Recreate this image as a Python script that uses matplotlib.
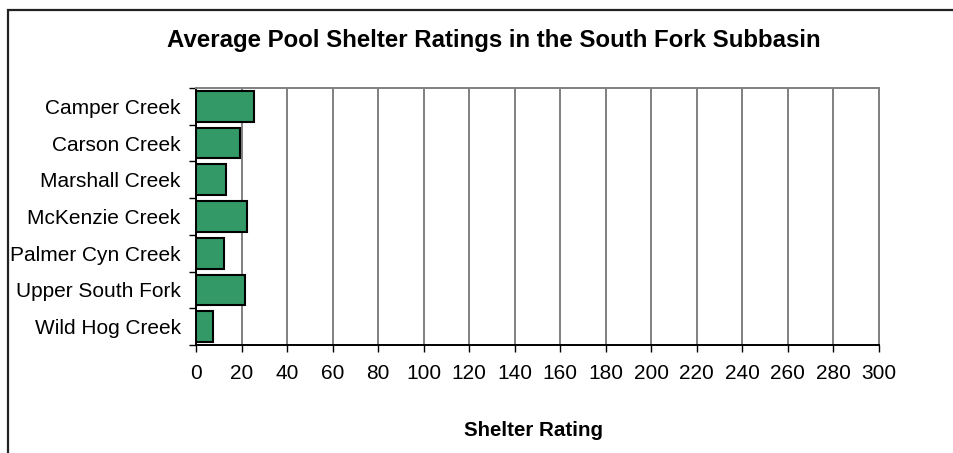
import matplotlib
matplotlib.use("Agg")
import matplotlib.pyplot as plt
from matplotlib.patches import Rectangle
import numpy as np

plt.rcParams['font.family'] = ['Liberation Sans', 'DejaVu Sans']

categories = ["Camper Creek", "Carson Creek", "Marshall Creek", "McKenzie Creek",
              "Palmer Cyn Creek", "Upper South Fork", "Wild Hog Creek"]
values = [25.3, 19.4, 13.0, 22.4, 12.1, 21.6, 7.5]
xticks = list(range(0, 301, 20))

W, H = 954, 453
fig = plt.figure(figsize=(W / 100, H / 100), dpi=100)

# outer chart frame
fig.patches.append(Rectangle((8 / W, -0.1), 1.2, (H - 10) / H + 0.1,
                             transform=fig.transFigure, fill=False,
                             edgecolor="#222222", linewidth=1.6, zorder=0))

ax = fig.add_axes([196 / W, 1 - 345 / H, (879 - 196) / W, (345 - 88) / H])
n = len(categories)
pos = np.arange(n)
ax.barh(pos, values, height=0.84, color="#339966", edgecolor="black",
        linewidth=1.5, zorder=3)
ax.set_ylim(n - 0.5, -0.5)
ax.set_xlim(0, 300)
ax.set_xticks(xticks)
ax.set_xticklabels([str(t) for t in xticks], fontsize=15)
ax.set_yticks(pos)
ax.set_yticklabels(categories, fontsize=15)
ax.set_yticks(np.arange(-0.5, n, 1), minor=True)
ax.tick_params(axis='y', which='major', length=0, pad=11)
ax.tick_params(axis='y', which='minor', length=5, width=1, direction='out', color='black')
ax.tick_params(axis='x', length=5, width=1, direction='out', color='black', pad=9)
ax.grid(axis='x', color="#808080", linewidth=1.4, zorder=0)
ax.set_axisbelow(True)
for s in ['top', 'right']:
    ax.spines[s].set_color("#808080")
    ax.spines[s].set_linewidth(1.4)
for s in ['left', 'bottom']:
    ax.spines[s].set_color("black")
    ax.spines[s].set_linewidth(1.4)

fig.text(534 / W, 1 - 430 / H, "Shelter Rating", ha='center', va='center',
         fontsize=14.8, fontweight='bold')
fig.text(494 / W, 1 - 40 / H, "Average Pool Shelter Ratings in the South Fork Subbasin",
         ha='center', va='center', fontsize=17.3, fontweight='bold')

fig.savefig("out.png", dpi=100)
